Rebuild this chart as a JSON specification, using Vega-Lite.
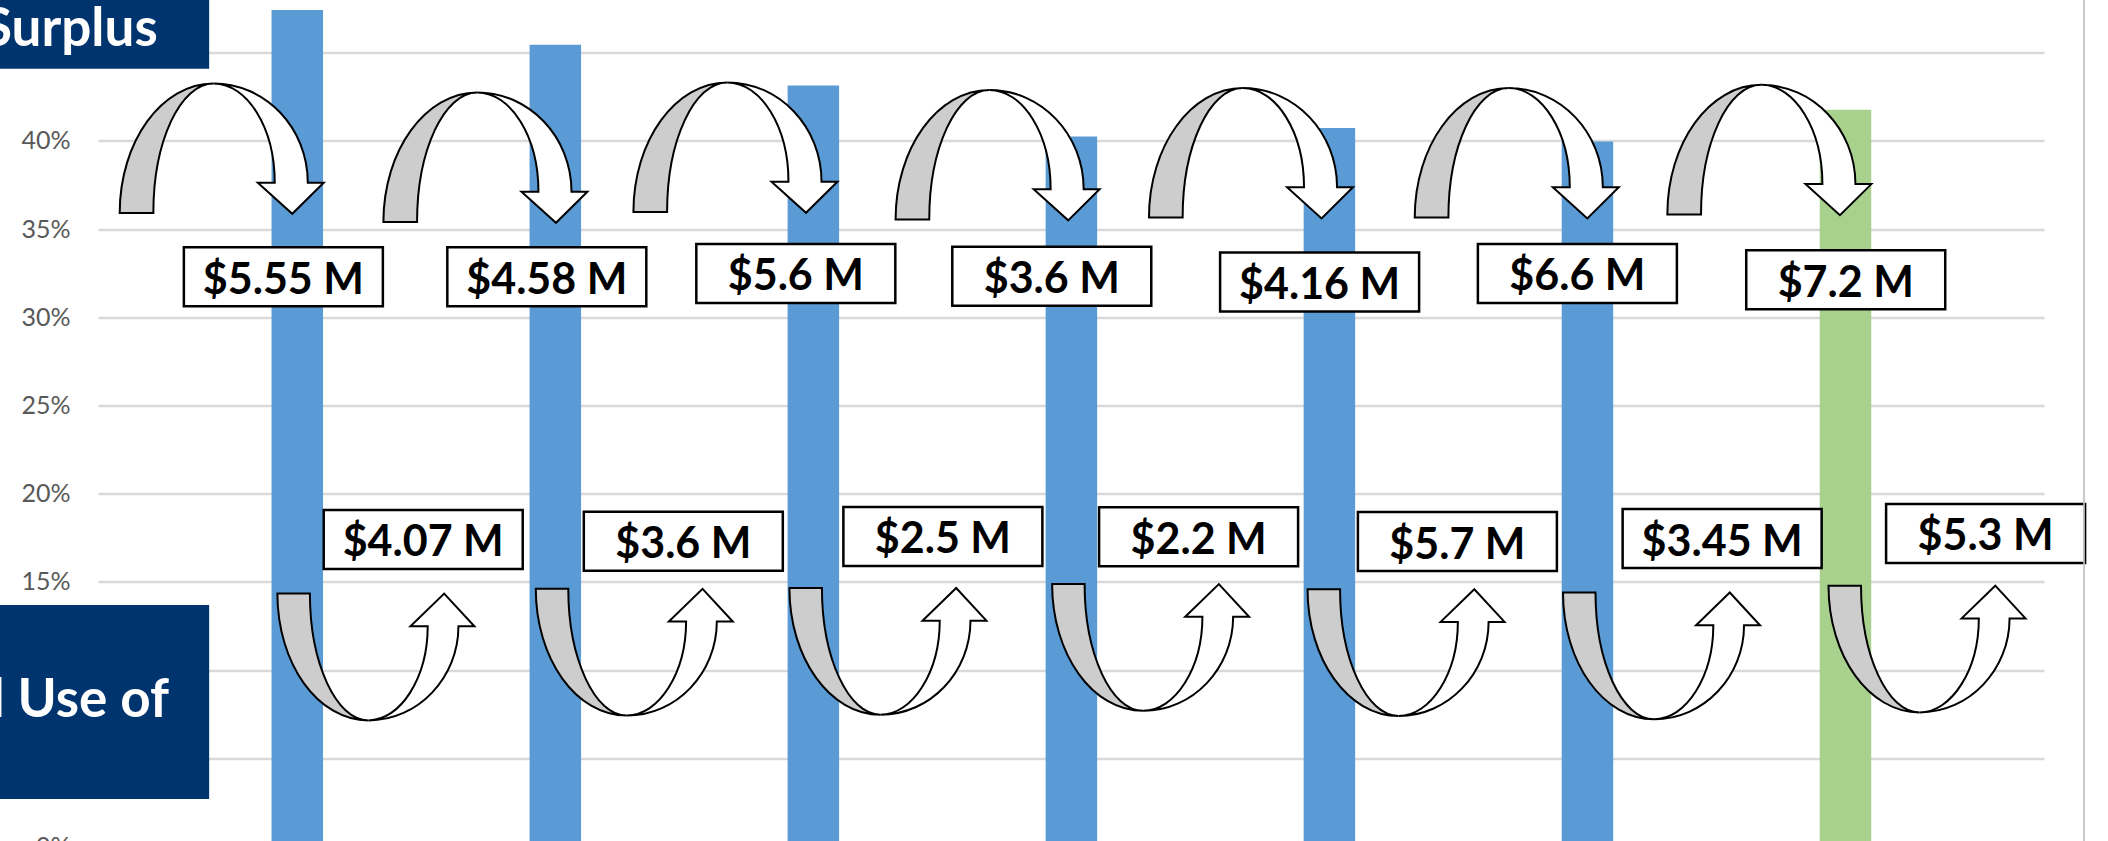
{
  "$schema": "https://vega.github.io/schema/vega-lite/v6.json",
  "width": 1946,
  "height": 882,
  "autosize": {"type": "none"},
  "padding": {"left": 98, "right": 64, "top": -35.6, "bottom": -5.4},
  "background": "white",
  "config": {"view": {"stroke": null}},
  "datasets": {
    "bars": [
      {"x": 0, "y": 0.4742, "k": "past"},
      {"x": 1, "y": 0.4544, "k": "past"},
      {"x": 2, "y": 0.4313, "k": "past"},
      {"x": 3, "y": 0.4024, "k": "past"},
      {"x": 4, "y": 0.4072, "k": "past"},
      {"x": 5, "y": 0.3996, "k": "past"},
      {"x": 6, "y": 0.4176, "k": "current"}
    ],
    "topArcs": [
      {"x": -0.293, "y": 0.3955},
      {"x": 0.729, "y": 0.3904},
      {"x": 1.698, "y": 0.3961},
      {"x": 2.714, "y": 0.3918},
      {"x": 3.696, "y": 0.3929},
      {"x": 4.726, "y": 0.3929},
      {"x": 5.705, "y": 0.3947}
    ],
    "bottomArcs": [
      {"x": 0.3046, "y": 0.1074},
      {"x": 1.306, "y": 0.1101},
      {"x": 2.289, "y": 0.1106},
      {"x": 3.307, "y": 0.1128},
      {"x": 4.297, "y": 0.1099},
      {"x": 5.287, "y": 0.1080},
      {"x": 6.316, "y": 0.1119}
    ],
    "labels": [
      {"x": -0.054, "y": 0.3229, "t": "$5.55 M"},
      {"x": 0.967, "y": 0.3229, "t": "$4.58 M"},
      {"x": 1.932, "y": 0.3248, "t": "$5.6 M"},
      {"x": 2.924, "y": 0.3232, "t": "$3.6 M"},
      {"x": 3.962, "y": 0.3200, "t": "$4.16 M"},
      {"x": 4.961, "y": 0.3248, "t": "$6.6 M"},
      {"x": 6.001, "y": 0.3212, "t": "$7.2 M"},
      {"x": 0.488, "y": 0.1740, "t": "$4.07 M"},
      {"x": 1.496, "y": 0.1730, "t": "$3.6 M"},
      {"x": 2.502, "y": 0.1757, "t": "$2.5 M"},
      {"x": 3.493, "y": 0.1755, "t": "$2.2 M"},
      {"x": 4.496, "y": 0.1728, "t": "$5.7 M"},
      {"x": 5.522, "y": 0.1745, "t": "$3.45 M"},
      {"x": 6.543, "y": 0.1774, "t": "$5.3 M"}
    ],
    "navyBoxes": [
      {"x": -1.516, "x2": -0.3416, "y": 0.4409, "y2": 0.5082},
      {"x": -1.516, "x2": -0.3416, "y": 0.0269, "y2": 0.1368}
    ],
    "navyTexts": [
      {"x": -0.541, "y": 0.4539, "t": "Surplus"},
      {"x": -0.4974, "y": 0.0731, "t": "l Use of"}
    ],
    "border": [
      {"x": 6.9245, "y": 0, "y2": 0.5}
    ]
  },
  "encoding": {
    "x": {"field": "x", "type": "quantitative", "scale": {"domain": [-0.753, 6.75], "nice": false, "zero": false}, "axis": null, "title": null},
    "y": {"field": "y", "type": "quantitative", "scale": {"domain": [0, 0.5], "nice": false, "zero": false},
      "title": null,
      "axis": {
        "values": [0, 0.05, 0.1, 0.15, 0.2, 0.25, 0.3, 0.35, 0.4, 0.45, 0.5],
        "format": ".0%",
        "domain": false,
        "ticks": false,
        "tickSize": 0,
        "labelPadding": 28,
        "labelFont": "Lato",
        "labelFontSize": 25,
        "labelColor": "#595959",
        "gridColor": "#D9D9D9",
        "gridWidth": 2.5
      }
    }
  },
  "layer": [
    {
      "data": {"name": "bars"},
      "mark": {"type": "bar", "width": 51.5},
      "encoding": {
        "color": {"field": "k", "type": "nominal", "scale": {"domain": ["past", "current"], "range": ["#5B9BD5", "#A9D18E"]}, "legend": null}
      }
    },
    {
      "data": {"name": "topArcs"},
      "mark": {"type": "point", "filled": true, "opacity": 1, "fill": "#CDCDCD", "stroke": "black", "strokeWidth": 2, "size": 41616,
        "shape": "M-1,0.63C-1,-0.071,-0.588,-0.64,-0.08,-0.64C-0.406,-0.64,-0.67,-0.071,-0.67,0.63Z"}
    },
    {
      "data": {"name": "topArcs"},
      "mark": {"type": "point", "filled": true, "opacity": 1, "fill": "white", "stroke": "black", "strokeWidth": 2, "size": 41616,
        "shape": "M-0.08,-0.64C0.43,-0.64,0.844,-0.204,0.844,0.333L1,0.333L0.692,0.638L0.354,0.333L0.52,0.333C0.52,-0.204,0.251,-0.64,-0.08,-0.64Z"}
    },
    {
      "data": {"name": "bottomArcs"},
      "mark": {"type": "point", "filled": true, "opacity": 1, "fill": "#CDCDCD", "stroke": "black", "strokeWidth": 2, "size": 38809,
        "shape": "M-1,-0.643C-1,0.07,-0.59,0.644,-0.076,0.644C-0.4,0.644,-0.67,0.07,-0.67,-0.643Z"}
    },
    {
      "data": {"name": "bottomArcs"},
      "mark": {"type": "point", "filled": true, "opacity": 1, "fill": "white", "stroke": "black", "strokeWidth": 2, "size": 38809,
        "shape": "M-0.076,0.644C0.43,0.644,0.838,0.21,0.838,-0.311L1,-0.311L0.693,-0.643L0.351,-0.311L0.526,-0.311C0.526,0.21,0.25,0.644,-0.076,0.644Z"}
    },
    {
      "data": {"name": "labels"},
      "mark": {"type": "point", "filled": true, "opacity": 1, "fill": "white", "stroke": "black", "strokeWidth": 2.5, "size": 39601,
        "shape": "M-1,-0.2965L1,-0.2965L1,0.2965L-1,0.2965Z"}
    },
    {
      "data": {"name": "labels"},
      "mark": {"type": "text", "font": "Lato", "fontWeight": "bold", "fontSize": 43, "color": "black", "align": "center", "baseline": "alphabetic", "dy": 17},
      "encoding": {"text": {"field": "t", "type": "nominal"}}
    },
    {
      "data": {"name": "navyBoxes"},
      "mark": {"type": "rect", "color": "#00346E"},
      "encoding": {
        "x2": {"field": "x2"},
        "y2": {"field": "y2"}
      }
    },
    {
      "data": {"name": "navyTexts"},
      "mark": {"type": "text", "font": "Lato", "fontWeight": "bold", "fontSize": 53, "color": "white", "align": "right", "baseline": "alphabetic"},
      "encoding": {"text": {"field": "t", "type": "nominal"}}
    },
    {
      "data": {"name": "border"},
      "mark": {"type": "rule", "color": "#BFBFBF", "strokeWidth": 1.7},
      "encoding": {"y2": {"field": "y2"}}
    }
  ]
}
